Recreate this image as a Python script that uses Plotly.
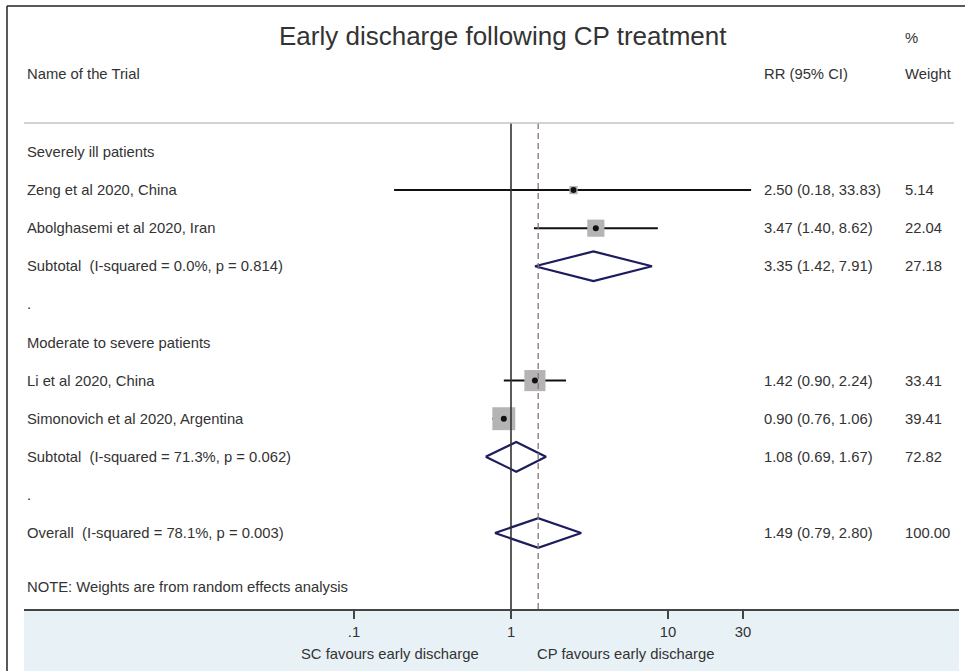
import math
import plotly.graph_objects as go

# ---------------- data ----------------
labels = [
    "Severely ill patients",
    "Zeng et al 2020, China",
    "Abolghasemi et al 2020, Iran",
    "Subtotal  (I-squared = 0.0%, p = 0.814)",
    ".",
    "Moderate to severe patients",
    "Li et al 2020, China",
    "Simonovich et al 2020, Argentina",
    "Subtotal  (I-squared = 71.3%, p = 0.062)",
    ".",
    "Overall  (I-squared = 78.1%, p = 0.003)",
]
kinds = ["group", "trial", "trial", "pooled", "blank",
         "group", "trial", "trial", "pooled", "blank", "pooled"]
rr = [None, 2.50, 3.47, 3.35, None, None, 1.42, 0.90, 1.08, None, 1.49]
ci_lo = [None, 0.18, 1.40, 1.42, None, None, 0.90, 0.76, 0.69, None, 0.79]
ci_hi = [None, 33.83, 8.62, 7.91, None, None, 2.24, 1.06, 1.67, None, 2.80]
weights = [None, 5.14, 22.04, 27.18, None, None, 33.41, 39.41, 72.82, None, 100.00]

tick_vals = [0.1, 1, 10, 30]
tick_text = [".1", "1", "10", "30"]
overall_rr = 1.49

title_text = "Early discharge following CP treatment"
note_text = "NOTE: Weights are from random effects analysis"
left_label = "SC favours early discharge"
right_label = "CP favours early discharge"

# ---------------- geometry helpers ----------------
W, H = 965, 671
ML, MR, MT, MB = 24, 6, 0, 62
PW, PH = W - ML - MR, H - MT - MB
ROW0, ROWH = 152, 38.1          # pixel centre of row 0 and row spacing
DEC, X1 = 157.0, 511.0          # pixels per decade, pixel of RR = 1

def px_to_row(py):
    return (py - ROW0) / ROWH

def px_to_paperx(px):
    return (px - ML) / PW

def px_to_papery(py):
    return (MT + PH - py) / PH

x_range = [(ML - X1) / DEC, (ML + PW - X1) / DEC]
y_range = [px_to_row(MT + PH), px_to_row(MT)]

FONT = "Liberation Sans, Arial, sans-serif"
TXT = "#333333"
FS = 14.8

fig = go.Figure()

# trials: CI lines, weight boxes, point dots
for i, k in enumerate(kinds):
    if k == "trial":
        fig.add_trace(go.Scatter(
            x=[ci_lo[i], ci_hi[i]], y=[i, i], mode="lines",
            line=dict(color="#111111", width=2), hoverinfo="skip", showlegend=False))
        fig.add_trace(go.Scatter(
            x=[rr[i]], y=[i], mode="markers",
            marker=dict(symbol="square", size=3.65 * math.sqrt(weights[i]),
                        color="#b4b4b4", line=dict(width=0)),
            hoverinfo="skip", showlegend=False))
        fig.add_trace(go.Scatter(
            x=[rr[i]], y=[i], mode="markers",
            marker=dict(symbol="circle", size=6, color="#111111"),
            hoverinfo="skip", showlegend=False))
    elif k == "pooled":
        h = 0.39
        fig.add_trace(go.Scatter(
            x=[ci_lo[i], rr[i], ci_hi[i], rr[i], ci_lo[i]],
            y=[i, i - h, i, i + h, i], mode="lines",
            line=dict(color="#1c1c5e", width=2.2), hoverinfo="skip", showlegend=False))

shapes = []
top_row = px_to_row(123)
# null line and overall-estimate dashed line
shapes.append(dict(type="line", xref="x", yref="y", x0=1, x1=1,
                   y0=top_row, y1=y_range[0], line=dict(color="#333333", width=1.6)))
shapes.append(dict(type="line", xref="x", yref="y", x0=overall_rr, x1=overall_rr,
                   y0=top_row, y1=y_range[0],
                   line=dict(color="#8a7272", width=1.3, dash="6px,4px")))
# header separator
shapes.append(dict(type="line", xref="paper", yref="y",
                   x0=px_to_paperx(24), x1=px_to_paperx(954), y0=top_row, y1=top_row,
                   line=dict(color="#c4c4c4", width=1.5)))
# bottom band
shapes.append(dict(type="rect", xref="paper", yref="paper", x0=0, x1=1,
                   y0=px_to_papery(H), y1=0, fillcolor="#e8f2f6",
                   line=dict(width=0), layer="below"))
# outer frame (top and left)
shapes.append(dict(type="line", xref="paper", yref="paper",
                   x0=px_to_paperx(7), x1=px_to_paperx(W + 2),
                   y0=px_to_papery(6), y1=px_to_papery(6),
                   line=dict(color="#222222", width=1.5)))
shapes.append(dict(type="line", xref="paper", yref="paper",
                   x0=px_to_paperx(7), x1=px_to_paperx(7),
                   y0=px_to_papery(6), y1=px_to_papery(H + 2),
                   line=dict(color="#222222", width=1.5)))

ann = []
def text(x_px, y, s, size=FS, xanchor="left", yref="y"):
    ann.append(dict(xref="paper", yref=yref, x=px_to_paperx(x_px), y=y, text=s,
                    showarrow=False, xanchor=xanchor, yanchor="middle",
                    font=dict(family=FONT, size=size, color=TXT)))

# title and headers
text(503, px_to_row(36), title_text, size=26, xanchor="center")
text(903, px_to_row(38), "%")
text(25, px_to_row(74), "Name of the Trial")
text(762, px_to_row(74), "RR (95% CI)")
text(903, px_to_row(74), "Weight")

for i, lab in enumerate(labels):
    text(25, i, lab)
    if rr[i] is not None:
        text(762, i, f"{rr[i]:.2f} ({ci_lo[i]:.2f}, {ci_hi[i]:.2f})")
        text(903, i, f"{weights[i]:.2f}")

text(25, px_to_row(587), note_text)
text(390, px_to_papery(654), left_label, xanchor="center", yref="paper")
text(625, px_to_papery(654), right_label, xanchor="center", yref="paper")

fig.update_layout(
    width=W, height=H,
    margin=dict(l=ML, r=MR, t=MT, b=MB, pad=0),
    paper_bgcolor="white", plot_bgcolor="white",
    shapes=shapes, annotations=ann,
    xaxis=dict(type="log", range=x_range, showgrid=False, zeroline=False,
               showline=True, linecolor="#444444", linewidth=2,
               ticks="outside", ticklen=8, tickwidth=1.5, tickcolor="#444444",
               tickvals=tick_vals, ticktext=tick_text,
               tickfont=dict(family=FONT, size=FS, color=TXT),
               ticklabelstandoff=0, fixedrange=True),
    yaxis=dict(range=y_range, visible=False, showgrid=False, zeroline=False,
               fixedrange=True),
    showlegend=False,
)

fig.write_html("out.html", config={"displayModeBar": False},
               post_script="document.body.style.margin='0';document.body.style.overflow='hidden';")
